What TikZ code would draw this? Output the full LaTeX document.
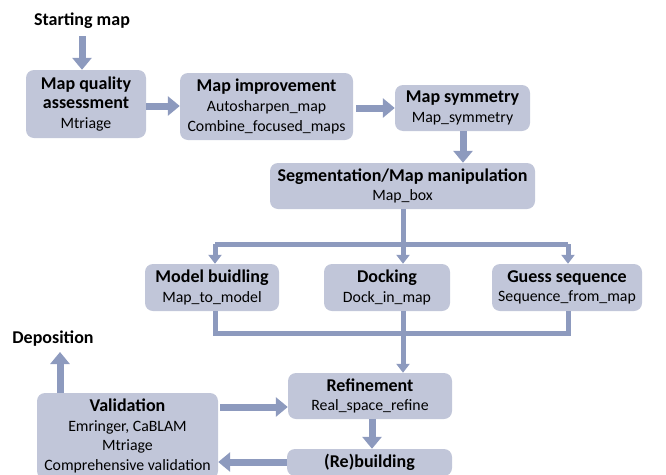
\documentclass[tikz,border=0pt]{standalone}
\usepackage{fontspec}
\setmainfont{Carlito}
\usetikzlibrary{arrows.meta}
\definecolor{boxfill}{RGB}{193,198,217}
\definecolor{arrcol}{RGB}{141,154,190}
\newcommand\ttl[1]{{\fontsize{18}{20}\selectfont\bfseries #1}}
\tikzset{
  box/.style={rectangle, rounded corners=8pt, fill=boxfill, draw=none, align=center, inner sep=0pt, font=\fontsize{15.8}{19.6}\selectfont},
  arr/.style={draw=arrcol, line width=7pt, -{Triangle[width=19pt,length=12pt]}},
  thinarr/.style={draw=arrcol, line width=5pt, -{Triangle[width=13pt,length=9pt]}},
  thinline/.style={draw=arrcol, line width=5pt},
  lbl/.style={font=\fontsize{18}{20}\selectfont\bfseries, inner sep=0pt}
}
\begin{document}
\begin{tikzpicture}[x=1pt,y=-1pt]
\useasboundingbox (0,0) rectangle (666,474);
\clip (0,0) rectangle (666,474);
\node[lbl] (start) at (82,21) {Starting map};
\node[box, minimum width=120pt, minimum height=68pt] (mqa) at (86,104) {\ttl{Map quality}\\\ttl{assessment}\\Mtriage};
\node[box, minimum width=173pt, minimum height=67pt] (mi) at (266.5,106.5) {\ttl{Map improvement}\\Autosharpen\_map\\Combine\_focused\_maps};
\node[box, minimum width=135pt, minimum height=46pt] (ms) at (462.5,108) {\ttl{Map symmetry}\\Map\_symmetry};
\node[box, minimum width=265pt, minimum height=46pt] (seg) at (402.5,186) {\ttl{Segmentation/Map manipulation}\\Map\_box};
\node[box, minimum width=134pt, minimum height=47pt] (mb) at (212,287.5) {\ttl{Model buidling}\\Map\_to\_model};
\node[box, minimum width=126pt, minimum height=47pt] (dock) at (387,287.5) {\ttl{Docking}\\Dock\_in\_map};
\node[box, minimum width=150pt, minimum height=47pt] (gs) at (567,287.5) {\ttl{Guess sequence}\\Sequence\_from\_map};
\node[box, minimum width=164pt, minimum height=46pt] (ref) at (370,396) {\ttl{Refinement}\\Real\_space\_refine};
\node[box, minimum width=165pt, minimum height=27pt] (reb) at (369.5,462.5) {\ttl{(Re)building}};
\node[box, minimum width=181pt, minimum height=86pt] (val) at (127.5,436) {\ttl{Validation}\\Emringer, CaBLAM\\Mtriage\\Comprehensive validation};
\node[lbl] (dep) at (53,339) {Deposition};
\coordinate (br) at (403,244);
\coordinate (mg) at (403,333);
% arrows
\draw[arr] (start.south |- 0,36) -- (start.south |- mqa.north);
\draw[arr] (mqa.east |- 0,106) -- (mi.west |- 0,106);
\draw[arr] (mi.east |- 0,108) ++(3,0) -- (ms.west |- 0,108);
\draw[arr] (ms.south -| 463,0) -- (seg.north -| 463,0);
\draw[thinline] (seg.south -| br) -- (br);
\draw[thinline] (br -| 215,0) -- (br -| 568,0);
\draw[thinarr] (br -| 215,0) -- (mb.north -| 215,0);
\draw[thinarr] (br) -- (dock.north -| br);
\draw[thinarr] (br -| 568,0) -- (gs.north -| 568,0);
\draw[thinline] (mb.south -| 215,0) -- (mg -| 215,0) -- (mg -| 568,0) -- (gs.south -| 568,0);
\draw[thinline] (dock.south -| mg) -- (mg);
\draw[thinarr] (mg) -- (ref.north -| mg);
\draw[arr] (ref.south -| 372,0) -- (reb.north -| 372,0);
\draw[arr] (val.east |- 0,407) ++(2,0) -- (ref.west |- 0,407);
\draw[arr] (reb.west |- 0,462) -- (val.east |- 0,462);
\draw[arr] (val.north -| 60,0) -- (60,352);
\end{tikzpicture}
\end{document}
